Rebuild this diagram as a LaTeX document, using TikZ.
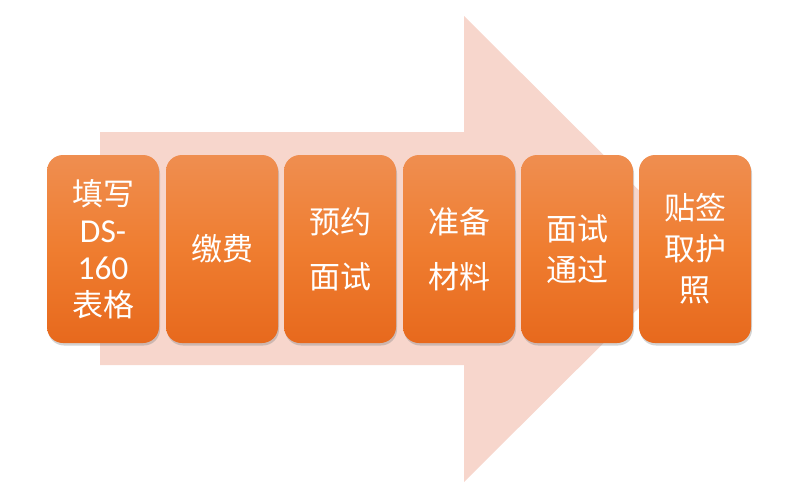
\documentclass[tikz,border=0pt]{standalone}
\usepackage{fontspec}
\newfontfamily\cjk{Noto Sans CJK SC}
\newfontfamily\carl[Scale=1.08]{Carlito}
\usetikzlibrary{shadows}
\definecolor{arrowpink}{HTML}{F7D6CC}
\definecolor{boxtop}{HTML}{EF8E50}
\definecolor{boxmid}{HTML}{EF7D30}
\definecolor{boxbot}{HTML}{E7691D}
\tikzset{
  stepbox/.style={rounded corners=16pt, minimum width=112pt, minimum height=188pt,
    inner sep=0pt, shading=axis, top color=boxtop, bottom color=boxbot,
    middle color=boxmid,
    draw=none, text=white, align=center,
    drop shadow={opacity=0.35, shadow xshift=1pt, shadow yshift=-2.5pt}},
  tight/.style={font=\cjk\fontsize{31}{37}\selectfont},
  mid/.style={font=\cjk\fontsize{31}{41}\selectfont},
  wide/.style={font=\cjk\fontsize{31}{55}\selectfont}
}
\begin{document}
\begin{tikzpicture}[x=1pt,y=-1pt]
\useasboundingbox (0,0) rectangle (800,496);
\fill[arrowpink] (100,132) -- (464,132) -- (464,16) -- (698,249) -- (464,482) -- (464,365) -- (100,365) -- cycle;
\node[stepbox, tight] (s1) at (103,249) {填写\\{\carl DS-}\\{\carl 160}\\表格};
\node[stepbox, mid] (s2) at (222,249) {缴费};
\node[stepbox, wide] (s3) at (340,249) {预约\\面试};
\node[stepbox, wide] (s4) at (459,249) {准备\\材料};
\node[stepbox, mid] (s5) at (577,249) {面试\\通过};
\node[stepbox, mid] (s6) at (695,249) {贴签\\取护\\照};
\end{tikzpicture}
\end{document}
